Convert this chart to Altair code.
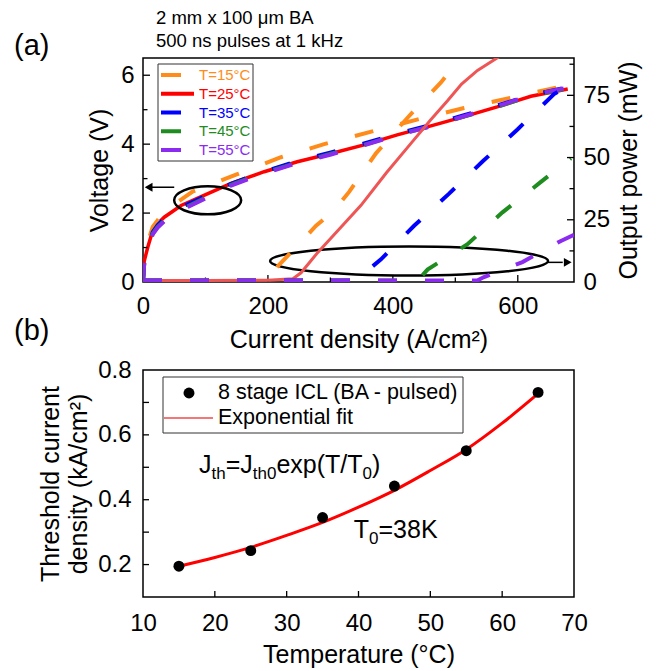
import altair as alt
import pandas as pd

FONT = "Liberation Sans"

# ---------------- Panel (a): V-J and L-J curves ----------------
series_labels = ["T=15°C", "T=25°C", "T=35°C", "T=45°C", "T=55°C"]
series_colors = ["#FF8C1A", "#FF0000", "#0000FF", "#1E8C1E", "#8B2BEF"]
power_red_color = "#EE5555"

# voltage (V) vs current density (A/cm2)
j_v15 = [0, 2, 7.5, 15.5, 34, 80, 150, 221, 290, 367, 440, 514, 590, 666]
v_15 = [0, 0.70, 1.15, 1.60, 2.05, 2.63, 3.12, 3.62, 4.00, 4.37, 4.72, 5.05, 5.35, 5.66]
j_v = [0, 2, 7.5, 15.5, 23.5, 34, 61, 103, 141, 194, 247, 301, 354, 407, 461, 514, 567, 621, 680]
v_25 = [0, 0.61, 1.00, 1.49, 1.69, 1.88, 2.22, 2.56, 2.86, 3.20, 3.49, 3.73, 3.98, 4.27, 4.53, 4.80, 5.08, 5.39, 5.60]
v_35 = [0, 0.58, 0.97, 1.45, 1.65, 1.84, 2.17, 2.52, 2.85, 3.20, 3.51, 3.76, 4.02, 4.30, 4.56, 4.84, 5.12, 5.42, 5.65]
v_45 = [0, 0.55, 0.93, 1.40, 1.60, 1.78, 2.10, 2.47, 2.82, 3.17, 3.46, 3.72, 3.98, 4.27, 4.52, 4.80, 5.08, 5.40, 5.62]
v_55 = [0, 0.55, 0.92, 1.38, 1.58, 1.76, 2.08, 2.45, 2.80, 3.15, 3.45, 3.70, 3.97, 4.26, 4.52, 4.81, 5.10, 5.42, 5.64]

# output power (mW) vs current density (A/cm2)
j_p15 = [0, 200, 216, 245, 277, 305, 330, 373, 423.5, 477, 514, 530]
p_15 = [0.6, 0.6, 6.4, 14, 22.6, 28.5, 36.2, 51.7, 66, 80.2, 91.7, 96]
j_p25 = [0, 100, 200, 240, 253, 279.5, 315, 349, 390, 430, 460, 487.5, 510, 535.5, 573, 590]
p_25 = [0.6, 0.6, 0.7, 1.3, 3.7, 11.8, 21.5, 30.8, 44, 56, 65, 72.8, 79.5, 85, 91, 94]
j_p35 = [0, 340, 381, 434, 490, 543.5, 599.5, 658, 685]
p_35 = [0.6, 0.6, 9.1, 22.6, 35.5, 48.4, 61.3, 75.5, 79.5]
j_p45 = [0, 440, 455.5, 519.5, 575.5, 634, 685]
p_45 = [0.6, 0.6, 5, 15.2, 28, 39.6, 49.7]
j_p55 = [0, 535, 546, 607.5, 669, 690]
p_55 = [0.6, 0.6, 2, 8, 16.5, 19]

a_x_major = [200, 400, 600]
a_x_minor = [100, 300, 500]
a_v_major = [2, 4, 6]
a_v_minor = [1, 3, 5]
a_p_major = [25, 50, 75]
a_p_minor = [12.5, 37.5, 62.5, 87.5]
a_x_labels = [0, 200, 400, 600]
a_v_labels = [0, 2, 4, 6]
a_p_labels = [0, 25, 50, 75]

a_notes = ["2 mm x 100 μm BA", "500 ns pulses at 1 kHz"]
panel_tags = ["(a)", "(b)"]

# annotation ellipses / arrows (data coords of voltage plot)
ell_j = [103.5, 426]
ell_v = [2.37, 0.61]
arrow_from_j = [50, 648]
arrow_to_j = [12, 672]
arrow_v = [2.75, 0.57]
arrow_head_j = [9, 680]

# ---------------- Panel (b): threshold vs temperature ----------------
temps = [15, 25, 35, 45, 55, 65]
jth = [0.195, 0.243, 0.345, 0.442, 0.551, 0.731]
fit_t = [15, 20, 25, 30, 35, 40, 45, 50, 55, 60, 65]
fit_j = [0.195, 0.222, 0.253, 0.290, 0.330, 0.377, 0.429, 0.490, 0.555, 0.636, 0.727]
b_x_ticks = [20, 30, 40, 50, 60]
b_y_ticks = [0.2, 0.3, 0.4, 0.5, 0.6, 0.7]
b_x_labels = [10, 20, 30, 40, 50, 60, 70]
b_y_labels = [0.2, 0.4, 0.6, 0.8]
b_legend = ["8 stage ICL (BA - pulsed)", "Exponential fit"]

W, HA, HB = 431, 224, 227

xs_a = alt.Scale(domain=[0, 690], nice=False, zero=False)
vs = alt.Scale(domain=[0, 6.5], nice=False, zero=False)
ps = alt.Scale(domain=[0, 90], nice=False, zero=False)
xs_b = alt.Scale(domain=[10, 70], nice=False, zero=False)
ys_b = alt.Scale(domain=[0.1, 0.8], nice=False, zero=False)

AXK = dict(grid=False, domain=False, ticks=False, labelFont=FONT, labelFontSize=24, labelColor="black",
           titleFont=FONT, titleFontSize=25, titleFontWeight="normal", titleColor="black",
           labelFlush=False, labelOverlap=False)

ax_xa = alt.Axis(values=a_x_labels, title="Current density (A/cm²)", labelPadding=12, titlePadding=9, **AXK)
ax_v = alt.Axis(values=a_v_labels, title="Voltage (V)", labelPadding=9, titlePadding=8, **AXK)
ax_p = alt.Axis(orient="right", values=a_p_labels, title="Output power (mW)", titleAngle=270,
                titleBaseline="top", labelPadding=9, titlePadding=7, **AXK)
ax_xb = alt.Axis(values=b_x_labels, title="Temperature (°C)", labelPadding=14, titlePadding=7, **AXK)
ax_yb = alt.Axis(values=b_y_labels, format=".1f", title=["Threshold current", "density (kA/cm²)"],
                 titleLineHeight=28, labelPadding=12, titlePadding=6, **AXK)

one = pd.DataFrame({"k": [0]})
DASH = [19, 28]


def XA(f):
    return alt.X(f, type="quantitative", scale=xs_a, axis=ax_xa)


def YV(f):
    return alt.Y(f, type="quantitative", scale=vs, axis=ax_v)


def YP(f):
    return alt.Y(f, type="quantitative", scale=ps, axis=ax_p)


def XB(f):
    return alt.X(f, type="quantitative", scale=xs_b, axis=ax_xb)


def YB(f):
    return alt.Y(f, type="quantitative", scale=ys_b, axis=ax_yb)


def txt(s, x, y, size, align="left", baseline="alphabetic", color="black"):
    return alt.Chart(pd.DataFrame({"t": [s]})).mark_text(
        align=align, baseline=baseline, fontSize=size, font=FONT, color=color
    ).encode(x=alt.value(x), y=alt.value(y), text="t:N")


def ellipse_path(k):
    c = 0.5523
    return (f"M -1 0 C -1 {-c*k:.4f} {-c:.4f} {-k:.4f} 0 {-k:.4f} "
            f"C {c:.4f} {-k:.4f} 1 {-c*k:.4f} 1 0 "
            f"C 1 {c*k:.4f} {c:.4f} {k:.4f} 0 {k:.4f} "
            f"C {-c:.4f} {k:.4f} -1 {c*k:.4f} -1 0 Z")


# ---- voltage group ----
volt_layers = []
vdata = [(j_v15, v_15), (j_v, v_25), (j_v, v_35), (j_v, v_45), (j_v, v_55)]
order = [1, 0, 2, 3, 4]
for idx in order:
    jj, vv = vdata[idx]
    df = pd.DataFrame({"J": jj, "V": vv})
    if idx == 1:
        m = alt.Chart(df).mark_line(color=series_colors[idx], strokeWidth=3.5, clip=True)
    else:
        m = alt.Chart(df).mark_line(color=series_colors[idx], strokeWidth=4, strokeDash=DASH, clip=True)
    volt_layers.append(m.encode(x=XA("J"), y=YV("V")))

# ellipses
for i, (w, h) in enumerate([(67, 28), (278, 29)]):
    df = pd.DataFrame({"J": [ell_j[i]], "V": [ell_v[i]]})
    volt_layers.append(alt.Chart(df).mark_point(
        shape=ellipse_path(h / w), size=w * w, filled=False, color="black", strokeWidth=2.5, opacity=1
    ).encode(x=XA("J"), y=YV("V")))

arr = pd.DataFrame({"J": arrow_from_j, "J2": arrow_to_j, "V": arrow_v, "H": arrow_head_j,
                    "shape": ["triangle-left", "triangle-right"]})
volt_layers.append(alt.Chart(arr).mark_rule(color="black", strokeWidth=1.5).encode(
    x=XA("J"), x2="J2:Q", y=YV("V")))
volt_layers.append(alt.Chart(arr).mark_point(filled=True, color="black", size=80, opacity=1).encode(
    x=XA("H"), y=YV("V"), shape=alt.Shape("shape:N", scale=None)))

# ticks (inward)
volt_layers.append(alt.Chart(pd.DataFrame({"v": a_v_major})).mark_rule(color="black", strokeWidth=1.3).encode(
    y=YV("v"), x=alt.value(0), x2=alt.value(7)))
volt_layers.append(alt.Chart(pd.DataFrame({"v": a_v_minor})).mark_rule(color="black", strokeWidth=1.3).encode(
    y=YV("v"), x=alt.value(0), x2=alt.value(4.5)))
volt_layers.append(alt.Chart(pd.DataFrame({"j": a_x_major})).mark_rule(color="black", strokeWidth=1.3).encode(
    x=XA("j"), y=alt.value(HA), y2=alt.value(HA - 7)))
volt_layers.append(alt.Chart(pd.DataFrame({"j": a_x_minor})).mark_rule(color="black", strokeWidth=1.3).encode(
    x=XA("j"), y=alt.value(HA), y2=alt.value(HA - 4.5)))

# legend (a)
volt_layers.append(alt.Chart(one).mark_rect(fill="white", stroke="#333333", strokeWidth=1).encode(
    x=alt.value(15), x2=alt.value(110), y=alt.value(6), y2=alt.value(103)))
for i, lab in enumerate(series_labels):
    yy = 17 + i * 18.75
    rm = alt.Chart(one).mark_rule(color=series_colors[i], strokeWidth=4)
    volt_layers.append(rm.encode(x=alt.value(18), x2=alt.value(51 if i == 1 else 38), y=alt.value(yy)))
    volt_layers.append(txt(lab, 56, yy, 15, baseline="middle", color=series_colors[i]))

# notes
volt_layers.append(txt(a_notes[0], 13, -34, 18.5))
volt_layers.append(txt(a_notes[1], 13, -11, 18.5))
volt_layers.append(txt(panel_tags[0], -129, -12, 29, baseline="middle"))
volt_layers.append(txt(panel_tags[1], -129, 273, 29, baseline="middle"))

volt_group = alt.layer(*volt_layers)

# ---- power group ----
power_layers = []
pdata = [(j_p15, p_15), (j_p25, p_25), (j_p35, p_35), (j_p45, p_45), (j_p55, p_55)]
for idx in order:
    jj, pp = pdata[idx]
    df = pd.DataFrame({"J": jj, "P": pp})
    if idx == 1:
        m = alt.Chart(df).mark_line(color=power_red_color, strokeWidth=3, clip=True)
    else:
        m = alt.Chart(df).mark_line(color=series_colors[idx], strokeWidth=4, strokeDash=DASH, clip=True)
    power_layers.append(m.encode(x=XA("J"), y=YP("P")))

power_layers.append(alt.Chart(pd.DataFrame({"p": a_p_major})).mark_rule(color="black", strokeWidth=1.3).encode(
    y=YP("p"), x=alt.value(W), x2=alt.value(W - 7)))
power_layers.append(alt.Chart(pd.DataFrame({"p": a_p_minor})).mark_rule(color="black", strokeWidth=1.3).encode(
    y=YP("p"), x=alt.value(W), x2=alt.value(W - 4.5)))

power_group = alt.layer(*power_layers)

panel_a = alt.layer(volt_group, power_group).resolve_scale(y="independent").properties(width=W, height=HA)

# ---------------- Panel (b) ----------------
b_layers = []
b_layers.append(alt.Chart(pd.DataFrame({"T": fit_t, "J": fit_j})).mark_line(
    color="#FF0000", strokeWidth=3, interpolate="monotone").encode(x=XB("T"), y=YB("J")))
b_layers.append(alt.Chart(pd.DataFrame({"T": temps, "J": jth})).mark_point(
    shape="circle", filled=True, color="black", size=120, opacity=1).encode(x=XB("T"), y=YB("J")))
b_layers.append(alt.Chart(pd.DataFrame({"t": b_x_ticks})).mark_rule(color="black", strokeWidth=1.3).encode(
    x=XB("t"), y=alt.value(HB), y2=alt.value(HB - 6)))
b_layers.append(alt.Chart(pd.DataFrame({"j": b_y_ticks})).mark_rule(color="black", strokeWidth=1.3).encode(
    y=YB("j"), x=alt.value(0), x2=alt.value(6)))

# legend (b)
b_layers.append(alt.Chart(one).mark_rect(fill="white", stroke="#333333", strokeWidth=1).encode(
    x=alt.value(20), x2=alt.value(320), y=alt.value(7), y2=alt.value(63)))
b_layers.append(alt.Chart(one).mark_point(shape="circle", filled=True, color="black", size=120, opacity=1).encode(
    x=alt.value(46), y=alt.value(23)))
b_layers.append(alt.Chart(one).mark_rule(color="#F04848", strokeWidth=1.5).encode(
    x=alt.value(21), x2=alt.value(70), y=alt.value(48)))
b_layers.append(txt(b_legend[0], 75, 23, 21.5, baseline="middle"))
b_layers.append(txt(b_legend[1], 75, 48, 21.5, baseline="middle"))

# formula J_th = J_th0 exp(T/T_0)  and  T_0 = 38K
formula = [("J", 56, 25, 0), ("th", 68.5, 17, 6), ("=J", 82.7, 25, 0), ("th0", 109.8, 17, 6),
           ("exp(T/T", 133.4, 25, 0), ("0", 219.5, 17, 6), (")", 229, 25, 0)]
for s, x, fs, dy in formula:
    b_layers.append(txt(s, x, 103 + dy, fs))
t0 = [("T", 210.7, 25, 0), ("0", 226, 17, 6), ("=38K", 235.5, 25, 0)]
for s, x, fs, dy in t0:
    b_layers.append(txt(s, x, 168 + dy, fs))

panel_b = alt.layer(*b_layers).properties(width=W, height=HB)

chart = alt.vconcat(panel_a, panel_b, spacing=4).properties(
    padding={"left": 13, "top": 8, "right": 5, "bottom": 2}
).configure_view(stroke="black", strokeWidth=1.5)

chart.save("out.html", embed_options={"renderer": "svg", "actions": False})
